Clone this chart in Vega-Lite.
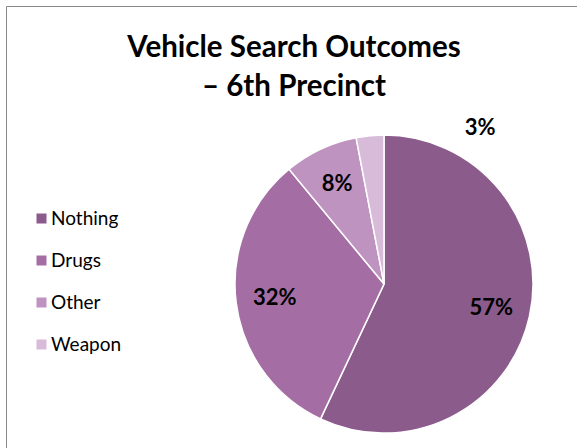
{
  "$schema": "https://vega.github.io/schema/vega-lite/v6.json",
  "width": 756,
  "height": 556,
  "autosize": {"type": "none"},
  "padding": {"left": 6, "top": 6, "right": 0, "bottom": 0},
  "background": "#ffffff",
  "title": {
    "text": ["Vehicle Search Outcomes", "– 6th Precinct"],
    "font": "Lato",
    "fontSize": 29.5,
    "fontWeight": "bold",
    "color": "#000000",
    "anchor": "middle",
    "dx": -90,
    "offset": -99,
    "lineHeight": 39
  },
  "data": {
    "values": [
      {"outcome": "Nothing", "share": 0.57, "rank": 1},
      {"outcome": "Drugs", "share": 0.32, "rank": 2},
      {"outcome": "Other", "share": 0.08, "rank": 3},
      {"outcome": "Weapon", "share": 0.03, "rank": 4}
    ]
  },
  "encoding": {
    "theta": {"field": "share", "type": "quantitative", "stack": true},
    "order": {"field": "rank", "type": "quantitative"}
  },
  "layer": [
    {
      "mark": {"type": "point", "opacity": 0},
      "encoding": {
        "theta": null,
        "order": null,
        "x": {"datum": 0, "type": "quantitative", "axis": null},
        "y": {"datum": 0, "type": "quantitative", "axis": null}
      }
    },
    {
      "mark": {"type": "arc", "outerRadius": 149, "stroke": "#ffffff", "strokeWidth": 1.5},
      "encoding": {
        "color": {
          "field": "outcome",
          "type": "nominal",
          "sort": ["Nothing", "Drugs", "Other", "Weapon"],
          "scale": {
            "domain": ["Nothing", "Drugs", "Other", "Weapon"],
            "range": ["#8B5B8C", "#A46EA5", "#BF93C0", "#D8BBD9"]
          },
          "legend": {
            "title": null,
            "orient": "none",
            "legendX": 26,
            "legendY": 203,
            "symbolType": "square",
            "symbolSize": 100,
            "symbolStrokeWidth": 0,
            "labelFont": "Lato",
            "labelFontSize": 19,
            "labelColor": "#000000",
            "labelOffset": 0,
            "rowPadding": 22
          }
        }
      }
    },
    {
      "mark": {"type": "text", "radius": 110, "font": "Lato", "fontSize": 22, "fontWeight": "bold", "color": "#000000"},
      "encoding": {
        "detail": {"field": "outcome"},
        "text": {
          "condition": {"test": "datum.outcome !== 'Weapon'", "field": "share", "format": ".0%"},
          "value": ""
        }
      }
    },
    {
      "mark": {"type": "text", "radius": 157, "dx": 111, "font": "Lato", "fontSize": 22, "fontWeight": "bold", "color": "#000000"},
      "encoding": {
        "detail": {"field": "outcome"},
        "text": {
          "condition": {"test": "datum.outcome === 'Weapon'", "field": "share", "format": ".0%"},
          "value": ""
        }
      }
    }
  ],
  "config": {
    "view": {"stroke": "#898989", "strokeWidth": 1}
  }
}
